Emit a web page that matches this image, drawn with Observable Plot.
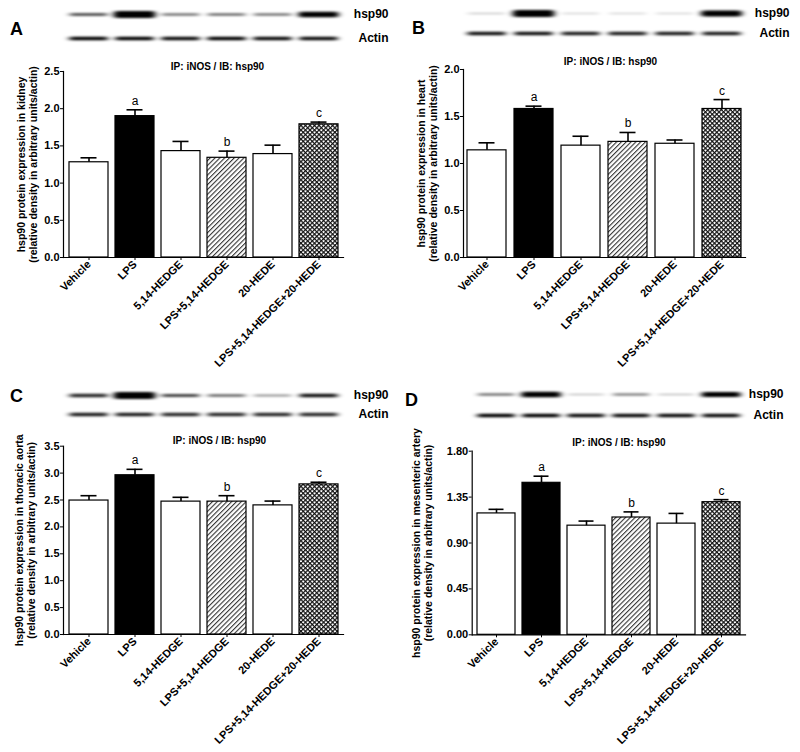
<!DOCTYPE html>
<html>
<head>
<meta charset="utf-8">
<script src="https://cdn.jsdelivr.net/npm/d3@7"></script>
<script src="https://cdn.jsdelivr.net/npm/@observablehq/plot@0.6"></script>
<style>
  body { margin: 0; background: #fff; font-family: "Liberation Sans", Arial, sans-serif; }
  #fig { position: relative; width: 800px; height: 752px; overflow: hidden; background: #fff; }
  .abs { position: absolute; }
  .letter { position: absolute; font-weight: bold; font-size: 18px; line-height: 18px; color: #000; }
</style>
</head>
<body>
<svg width="0" height="0" style="position:absolute">
  <defs>
    <pattern id="hatch" patternUnits="userSpaceOnUse" width="3.4" height="3.4" patternTransform="rotate(45)">
      <rect width="3.4" height="3.4" fill="#fff"></rect>
      <rect width="1.1" height="3.4" fill="#333"></rect>
    </pattern>
    <pattern id="cross" patternUnits="userSpaceOnUse" width="3.2" height="3.2" patternTransform="rotate(45)">
      <rect width="3.2" height="3.2" fill="#fff"></rect>
      <rect width="1.2" height="3.2" fill="#111"></rect>
      <rect width="3.2" height="1.2" fill="#111"></rect>
    </pattern>
    <filter id="smear" x="-10%" y="-60%" width="120%" height="220%">
      <feGaussianBlur stdDeviation="3 0.8"></feGaussianBlur>
    </filter>
  </defs>
</svg>
<div id="fig"></div>
<script>
// ---------- data ----------
const groups = ["Vehicle", "LPS", "5,14-HEDGE", "LPS+5,14-HEDGE", "20-HEDE", "LPS+5,14-HEDGE+20-HEDE"];
const sigLetters = ["", "a", "", "b", "", "c"];
const blotRows = ["hsp90", "Actin"];
const plotTitle = "IP: iNOS / IB: hsp90";

const kidneyMean = [1.28, 1.90, 1.43, 1.34, 1.39, 1.79];
const kidneySem  = [0.06, 0.085, 0.13, 0.09, 0.12, 0.03];
const heartMean  = [1.14, 1.58, 1.19, 1.23, 1.21, 1.58];
const heartSem   = [0.08, 0.03, 0.10, 0.10, 0.04, 0.10];
const aortaMean  = [2.49, 2.96, 2.47, 2.47, 2.40, 2.79];
const aortaSem   = [0.09, 0.11, 0.08, 0.11, 0.08, 0.04];
const mesMean    = [1.19, 1.49, 1.07, 1.15, 1.09, 1.30];
const mesSem     = [0.04, 0.065, 0.045, 0.055, 0.10, 0.025];

// band densities read from the blots (0..1)
const kidneyHsp  = [0.30, 1.00, 0.25, 0.27, 0.25, 0.72];
const kidneyAct  = [0.45, 0.45, 0.43, 0.45, 0.43, 0.43];
const heartHsp   = [0.10, 1.00, 0.08, 0.08, 0.08, 0.85];
const heartAct   = [0.42, 0.42, 0.40, 0.40, 0.40, 0.40];
const aortaHsp   = [0.38, 1.00, 0.33, 0.28, 0.20, 0.42];
const aortaAct   = [0.40, 0.40, 0.38, 0.38, 0.38, 0.38];
const mesHsp     = [0.25, 0.78, 0.12, 0.22, 0.12, 0.68];
const mesAct     = [0.45, 0.45, 0.43, 0.43, 0.43, 0.43];

const ticksKidney = [0, 0.5, 1.0, 1.5, 2.0, 2.5];
const ticksHeart  = [0, 0.5, 1.0, 1.5, 2.0];
const ticksAorta  = [0, 0.5, 1.0, 1.5, 2.0, 2.5, 3.0, 3.5];
const ticksMes    = [0, 0.45, 0.90, 1.35, 1.80];

const labelKidney = "hsp90 protein expression in kidney\n(relative density in arbitrary units/actin)";
const labelHeart  = "hsp90 protein expression in heart\n(relative density in arbitrary units/actin)";
const labelAorta  = "hsp90 protein expression in thoracic aorta\n(relative density in arbitrary units/actin)";
const labelMes    = "hsp90 protein expression in mesenteric artery\n(relative density in arbitrary units/actin)";

// ---------- layout / style ----------
const FONT = '"Liberation Sans", Arial, sans-serif';
const barFills = ["white", "black", "white", "url(#hatch)", "white", "url(#cross)"];

const panels = [
  {letter: "A", left: 0, mean: kidneyMean, sem: kidneySem, hsp: kidneyHsp, act: kidneyAct,
   ticks: ticksKidney, fmt: ".1f", ylabel: labelKidney,
   blotTop: 0, blotH: 50, bT: 14, bB: 12, labPad: 45,
   chartTop: 50, chartH: 326, mT: 21, mB: 119, mL: 63, mR: 57,
   tdx: 14, tdy: -9, ldx: -36, lx: 10, ly: 20},
  {letter: "B", left: 400, mean: heartMean, sem: heartSem, hsp: heartHsp, act: heartAct,
   ticks: ticksHeart, fmt: ".1f", ylabel: labelHeart,
   blotTop: 0, blotH: 50, bT: 13, bB: 17, labPad: 44,
   chartTop: 50, chartH: 326, mT: 19, mB: 119, mL: 63, mR: 55,
   tdx: 6, tdy: -12, ldx: -36, lx: 412, ly: 19},
  {letter: "C", left: 0, mean: aortaMean, sem: aortaSem, hsp: aortaHsp, act: aortaAct,
   ticks: ticksAorta, fmt: ".1f", ylabel: labelAorta,
   blotTop: 376, blotH: 44, bT: 19, bB: 6, labPad: 45,
   chartTop: 420, chartH: 332, mT: 25.7, mB: 118, mL: 63, mR: 57,
   tdx: 16, tdy: -9, ldx: -38, lx: 10, ly: 387},
  {letter: "D", left: 400, mean: mesMean, sem: mesSem, hsp: mesHsp, act: mesAct,
   ticks: ticksMes, fmt: ".2f", ylabel: labelMes,
   blotTop: 376, blotH: 44, bT: 18, bB: 5, labPad: 38,
   chartTop: 420, chartH: 332, mT: 30.7, mB: 117.7, mL: 71.7, mR: 55,
   tdx: 10, tdy: -12, ldx: -50, lx: 405, ly: 391}
];

const fig = document.getElementById("fig");

function place(el, left, top) {
  el.classList.add("abs");
  el.style.left = left + "px";
  el.style.top = top + "px";
  fig.appendChild(el);
}

for (const p of panels) {
  const data = groups.map((g, i) => ({group: g, mean: p.mean[i], sem: p.sem[i], sig: sigLetters[i]}));
  const blotData = groups.flatMap((g, i) => [
    {group: g, row: "hsp90", d: p.hsp[i]},
    {group: g, row: "Actin", d: p.act[i]}
  ]);
  const xOpts = {domain: groups, paddingInner: 0.16, paddingOuter: 0.08};
  const baseStyle = {fontFamily: FONT, fontSize: "11px", fontWeight: "bold", color: "black", background: "transparent", overflow: "visible"};

  // blot strip
  const blot = Plot.plot({
    width: 400, height: p.blotH,
    marginLeft: p.mL, marginRight: p.mR, marginTop: p.bT, marginBottom: p.bB,
    style: baseStyle,
    x: {...xOpts, axis: null},
    y: {type: "point", domain: blotRows, padding: 0, axis: null},
    opacity: {type: "identity"},
    marks: [
      Plot.tickY(blotData, {
        x: "group", y: "row", stroke: "black",
        strokeWidth: d => 1.0 + 6 * d.d,
        strokeOpacity: d => Math.min(1, 2.2 * d.d),
        strokeLinecap: "round", insetLeft: 2, insetRight: 2
      }),
      Plot.axisY({anchor: "right", tickSize: 0, tickPadding: p.labPad, textAnchor: "end", fontSize: 12, label: null})
    ]
  });
  const tg = blot.querySelector('g[aria-label="tick"]');
  if (tg) tg.setAttribute("filter", "url(#smear)");
  place(blot, p.left, p.blotTop);

  // bar chart
  const chart = Plot.plot({
    width: 400, height: p.chartH,
    marginLeft: p.mL, marginRight: p.mR, marginTop: p.mT, marginBottom: p.mB,
    style: baseStyle,
    x: {...xOpts, label: null},
    y: {domain: [p.ticks[0], p.ticks[p.ticks.length - 1]], label: null},
    color: {type: "ordinal", domain: groups, range: barFills},
    marks: [
      Plot.barY(data, {x: "group", y: "mean", fill: "group", stroke: "black", strokeWidth: 1.2}),
      Plot.ruleX(data, {x: "group", y1: "mean", y2: d => d.mean + d.sem, stroke: "black", strokeWidth: 1.6}),
      Plot.tickY(data, {x: "group", y: d => d.mean + d.sem, stroke: "black", strokeWidth: 1.6, insetLeft: 11.5, insetRight: 11.5}),
      Plot.text(data, {x: "group", y: d => d.mean + d.sem, text: "sig", lineAnchor: "bottom", dy: -5, fontSize: 12, fontWeight: "normal"}),
      Plot.axisY({ticks: p.ticks, tickFormat: p.fmt, tickSize: 3, tickPadding: 1, label: null}),
      Plot.axisX({tickRotate: -45, tickSize: 3, tickPadding: 2, label: null}),
      Plot.frame({anchor: "left", strokeWidth: 1.2}),
      Plot.frame({anchor: "bottom", strokeWidth: 1.2}),
      Plot.text([plotTitle], {frameAnchor: "top", dx: p.tdx, dy: p.tdy, fontSize: 10}),
      Plot.text([p.ylabel], {frameAnchor: "left", rotate: -90, textAnchor: "middle", lineAnchor: "middle", dx: p.ldx, lineHeight: 1.14, fontSize: 10.5})
    ]
  });
  place(chart, p.left, p.chartTop);

  const L = document.createElement("div");
  L.className = "letter";
  L.textContent = p.letter;
  L.style.left = p.lx + "px";
  L.style.top = p.ly + "px";
  fig.appendChild(L);
}
</script>
</body>
</html>
